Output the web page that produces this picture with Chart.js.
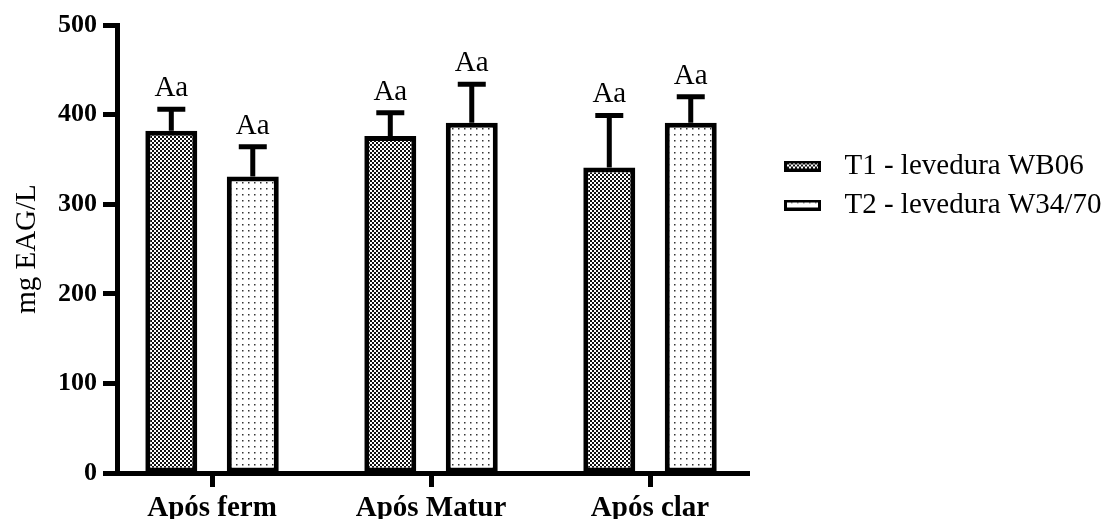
<!DOCTYPE html>
<html>
<head>
<meta charset="utf-8">
<script src="https://cdn.jsdelivr.net/npm/chart.js@4/dist/chart.umd.min.js"></script>
<style>
  body { margin: 0; background: #fff; }
  #wrap { width: 1115px; height: 519px; }
</style>
</head>
<body>
<div id="wrap"><canvas id="graficoFenois"></canvas></div>
<script>
// dados
const categorias = ["Após ferm", "Após Matur", "Após clar"];
const nomesSeries = ["T1 - levedura WB06", "T2 - levedura W34/70"];
const mediaT1 = [382, 376, 341];
const erroT1 = [24, 26, 58];
const mediaT2 = [331, 391, 391];
const erroT2 = [33, 43, 29];
const letrasT1 = ["Aa", "Aa", "Aa"];
const letrasT2 = ["Aa", "Aa", "Aa"];
const yMax = 500;
const yPasso = 100;

const fonte = "'Liberation Serif', 'Times New Roman', serif";

// padroes de preenchimento (xadrez e pontilhado)
function padraoXadrez() {
  const c = document.createElement("canvas");
  c.width = 4; c.height = 4;
  const g = c.getContext("2d");
  g.fillStyle = "#111";
  g.fillRect(0, 0, 4, 4);
  g.fillStyle = "#fff";
  g.fillRect(0, 0, 2, 2);
  g.fillRect(2, 2, 2, 2);
  return g.createPattern(c, "repeat");
}

function padraoPontos() {
  const c = document.createElement("canvas");
  c.width = 6; c.height = 6;
  const g = c.getContext("2d");
  g.fillStyle = "#fff";
  g.fillRect(0, 0, 6, 6);
  g.fillStyle = "#333";
  g.fillRect(2, 2, 1.5, 1.5);
  return g.createPattern(c, "repeat");
}

// imagem da legenda: caixa preta fina com o padrao dentro
function caixaLegenda(padrao) {
  const c = document.createElement("canvas");
  c.width = 71; c.height = 11;
  const g = c.getContext("2d");
  g.fillStyle = "#000";
  g.fillRect(25, 0, 37, 11);
  g.fillStyle = padrao;
  g.fillRect(28, 3, 31, 5);
  return c;
}

const pT1 = padraoXadrez();
const pT2 = padraoPontos();
const iconesLegenda = [caixaLegenda(pT1), caixaLegenda(pT2)];

const medias = [mediaT1, mediaT2];
const erros = [erroT1, erroT2];
const letras = [letrasT1, letrasT2];

// largura da legenda, para o eixo x terminar onde termina no original
const med = document.createElement("canvas").getContext("2d");
med.font = "29px " + fonte;
const larguraTexto = Math.max(...nomesSeries.map((t) => med.measureText(t).width));
const larguraLegenda = 10 + 71 + 14.5 + larguraTexto + 10;
const folgaDireita = Math.max(0, 1115 - 749 - larguraLegenda);

// barras de erro + letras acima
const barrasErro = {
  id: "barrasErro",
  afterDatasetsDraw(chart) {
    const ctx = chart.ctx;
    const y = chart.scales.y;
    ctx.save();
    ctx.strokeStyle = "#000";
    ctx.lineWidth = 5;
    ctx.fillStyle = "#000";
    ctx.font = "29px " + fonte;
    ctx.textAlign = "center";
    ctx.textBaseline = "alphabetic";
    chart.data.datasets.forEach((ds, i) => {
      const meta = chart.getDatasetMeta(i);
      meta.data.forEach((bar, j) => {
        const topo = y.getPixelForValue(medias[i][j] + erros[i][j]);
        ctx.beginPath();
        ctx.moveTo(bar.x, bar.y);
        ctx.lineTo(bar.x, topo);
        ctx.moveTo(bar.x - 14, topo);
        ctx.lineTo(bar.x + 14, topo);
        ctx.stroke();
        ctx.fillText(letras[i][j], bar.x, topo - 13);
      });
    });
    ctx.restore();
  },
};

const ctx = document.getElementById("graficoFenois").getContext("2d");

new Chart(ctx, {
  type: "bar",
  data: {
    datasets: [
      {
        label: nomesSeries[0],
        data: mediaT1.map((v, i) => ({ x: i, y: v })),
        backgroundColor: pT1,
        borderColor: "#000",
        borderWidth: 5,
        borderSkipped: false,
      },
      {
        label: nomesSeries[1],
        data: mediaT2.map((v, i) => ({ x: i, y: v })),
        backgroundColor: pT2,
        borderColor: "#000",
        borderWidth: 5,
        borderSkipped: false,
      },
    ],
  },
  options: {
    responsive: true,
    maintainAspectRatio: false,
    animation: false,
    categoryPercentage: 0.744,
    barPercentage: 0.638,
    layout: {
      padding: { top: 25, right: folgaDireita, bottom: 0, left: 0 },
    },
    scales: {
      x: {
        type: "linear",
        min: -0.434,
        max: 2.452,
        offset: false,
        afterBuildTicks(scale) {
          scale.ticks = categorias.map((_, i) => ({ value: i }));
        },
        afterFit(scale) {
          scale.height = 46;
        },
        grid: {
          offset: false,
          drawOnChartArea: false,
          drawTicks: true,
          tickLength: 14,
          tickWidth: 5,
          tickColor: "#000",
        },
        border: { display: true, color: "#000", width: 5 },
        ticks: {
          autoSkip: false,
          maxRotation: 0,
          padding: 4,
          color: "#000",
          font: { family: fonte, size: 29, weight: "bold" },
          callback: (v) => categorias[v],
        },
      },
      y: {
        min: 0,
        max: yMax,
        afterFit(scale) {
          scale.width = 117;
        },
        grid: {
          drawOnChartArea: false,
          drawTicks: true,
          tickLength: 14,
          tickWidth: 5,
          tickColor: "#000",
        },
        border: { display: true, color: "#000", width: 5 },
        ticks: {
          stepSize: yPasso,
          padding: 6,
          color: "#000",
          font: { family: fonte, size: 26, weight: "bold" },
        },
        title: {
          display: true,
          text: "mg EAG/L",
          color: "#000",
          font: { family: fonte, size: 29 },
          padding: { top: 10, bottom: 0 },
        },
      },
    },
    plugins: {
      tooltip: { enabled: false },
      legend: {
        position: "right",
        align: "start",
        maxWidth: 500,
        title: {
          display: true,
          text: "",
          font: { size: 12 },
          padding: { top: 0, bottom: 102.1 },
        },
        labels: {
          usePointStyle: true,
          pointStyleWidth: 71,
          padding: 10,
          color: "#000",
          font: { family: fonte, size: 29 },
          generateLabels(chart) {
            return chart.data.datasets.map((ds, i) => ({
              text: ds.label,
              pointStyle: iconesLegenda[i],
              fillStyle: "#000",
              strokeStyle: "#000",
              lineWidth: 0,
              fontColor: "#000",
              hidden: false,
              datasetIndex: i,
            }));
          },
        },
      },
    },
  },
  plugins: [barrasErro],
});
</script>
</body>
</html>
